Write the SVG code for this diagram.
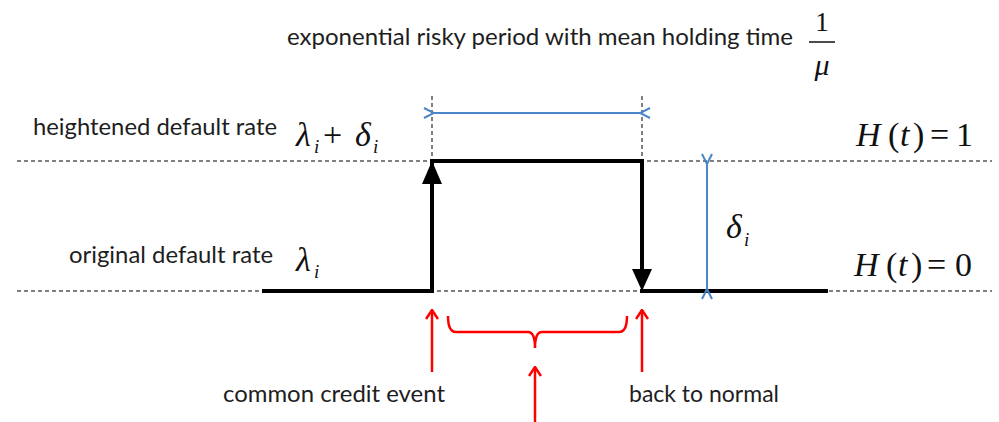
<svg xmlns="http://www.w3.org/2000/svg" width="999" height="422" viewBox="0 0 999 422">
<defs>
<style>
.lbl{font-family:Lato,"Open Sans","Liberation Sans",sans-serif;font-size:23px;fill:#1e1e1e}
.math{font-family:"Liberation Serif","Times New Roman",serif;fill:#111}
.it{font-style:italic}
.dash{stroke:#555;stroke-width:1.5;stroke-dasharray:4 3;fill:none}
.thick{stroke:#000;stroke-width:4;fill:none}
.blue{stroke:#4a86c8;stroke-width:2;fill:none}
.red{stroke:#ff0000;stroke-width:2.5;fill:none}
</style>
<marker id="bl" viewBox="0 0 12 12" refX="1" refY="6" markerWidth="12" markerHeight="12" markerUnits="userSpaceOnUse" orient="auto-start-reverse">
<path d="M11,1 L1,6 L11,11" fill="none" stroke="#4a86c8" stroke-width="2"/>
</marker>
<marker id="rd" viewBox="0 0 14 12" refX="7" refY="1" markerWidth="14" markerHeight="12" markerUnits="userSpaceOnUse" orient="0">
<path d="M1,10 L7,1 L13,10" fill="none" stroke="#ff0000" stroke-width="2.5"/>
</marker>
</defs>
<rect width="999" height="422" fill="#fff"/>

<g id="guides">
<line class="dash" x1="17" y1="161" x2="992" y2="161"/>
<line class="dash" x1="17" y1="291" x2="992" y2="291"/>
<line class="dash" x1="432" y1="96" x2="432" y2="161"/>
<line class="dash" x1="642" y1="96" x2="642" y2="161"/>
</g>

<g id="connectors">
<line class="thick" x1="262" y1="291" x2="434" y2="291"/>
<line class="thick" x1="432" y1="291" x2="432" y2="163"/>
<path d="M432,161 L442,184 L422,184 Z" fill="#000"/>
<line class="thick" x1="430" y1="161" x2="644" y2="161"/>
<line class="thick" x1="642" y1="159" x2="642" y2="272"/>
<path d="M642,291 L652,269 L632,269 Z" fill="#000"/>
<line class="thick" x1="640" y1="291" x2="828" y2="291"/>
<line class="blue" x1="434" y1="113" x2="640" y2="113" marker-start="url(#bl)" marker-end="url(#bl)"/>
<line class="blue" x1="707" y1="164" x2="707" y2="289" marker-start="url(#bl)" marker-end="url(#bl)"/>
<line class="red" x1="432" y1="372" x2="432" y2="310" marker-end="url(#rd)"/>
<line class="red" x1="642" y1="372" x2="642" y2="310" marker-end="url(#rd)"/>
<line class="red" x1="535" y1="422" x2="535" y2="367" marker-end="url(#rd)"/>
<path class="red" d="M448,316 Q448,332 456,332 L528,332 Q535,332 535,348 Q535,332 542,332 L619,332 Q627,332 627,316"/>
</g>

<g id="title">
<text class="lbl" x="287" y="45" textLength="506" lengthAdjust="spacingAndGlyphs">exponential risky period with mean holding time</text>
<text class="math" x="822" y="31" font-size="27" text-anchor="middle">1</text>
<line x1="809" y1="42" x2="835" y2="42" stroke="#111" stroke-width="1.5"/>
<text class="math it" x="822" y="75" font-size="30" text-anchor="middle">μ</text>
</g>

<g id="heightened">
<text class="lbl" x="33" y="135" textLength="244" lengthAdjust="spacingAndGlyphs">heightened default rate</text>
<text class="math" y="146" font-size="34"><tspan class="it" x="296">λ</tspan><tspan class="it" x="314" y="153" font-size="19">i</tspan><tspan x="323" y="146">+</tspan><tspan class="it" x="355">δ</tspan><tspan class="it" x="373" y="153" font-size="19">i</tspan></text>
</g>

<g id="original">
<text class="lbl" x="69" y="263" textLength="204" lengthAdjust="spacingAndGlyphs">original default rate</text>
<text class="math" y="271" font-size="34"><tspan class="it" x="296">λ</tspan><tspan class="it" x="314" y="278" font-size="19">i</tspan></text>
</g>

<g id="delta">
<text class="math" y="238" font-size="34"><tspan class="it" x="726">δ</tspan><tspan class="it" x="744" y="246" font-size="19">i</tspan></text>
</g>

<g id="H1">
<text class="math" y="146" font-size="34"><tspan class="it" x="856">H</tspan><tspan x="888">(</tspan><tspan class="it" x="900">t</tspan><tspan x="913">)</tspan><tspan x="930">=</tspan><tspan x="956">1</tspan></text>
</g>
<g id="H0">
<text class="math" y="276" font-size="34"><tspan class="it" x="854">H</tspan><tspan x="886">(</tspan><tspan class="it" x="898">t</tspan><tspan x="911">)</tspan><tspan x="927">=</tspan><tspan x="955">0</tspan></text>
</g>

<g id="event">
<text class="lbl" x="223" y="402" textLength="222" lengthAdjust="spacingAndGlyphs">common credit event</text>
</g>
<g id="normal">
<text class="lbl" x="629" y="402" textLength="150" lengthAdjust="spacingAndGlyphs">back to normal</text>
</g>
</svg>
